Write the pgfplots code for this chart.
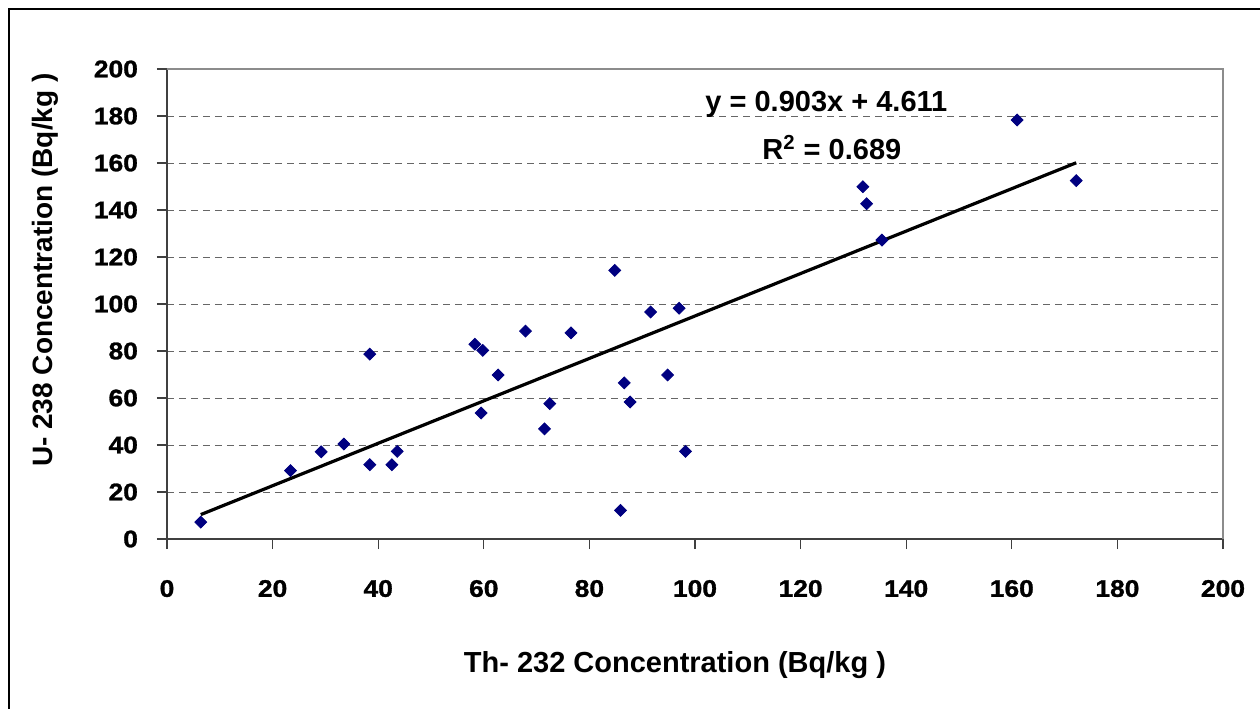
\documentclass[border=0pt]{standalone}
\usepackage{fontspec}
\setmainfont{Liberation Sans}
\newfontfamily\tickfont{Liberation Sans}[FakeStretch=1.1, FakeBold=1.2]
\usepackage{pgfplots}
\pgfplotsset{compat=1.18}
\definecolor{navy}{RGB}{0,0,128}
\pgfplotstableread{
x y
6.4 7.2
23.4 29.1
29.2 37.1
33.5 40.4
38.4 78.7
38.4 31.6
42.6 31.6
43.6 37.3
58.3 82.9
59.8 80.3
59.5 53.6
62.7 69.8
67.9 88.5
71.5 46.9
72.5 57.6
76.5 87.7
84.8 114.3
85.9 12.2
86.6 66.4
87.7 58.3
91.6 96.6
94.8 69.8
97.0 98.2
98.2 37.3
131.8 149.9
132.5 142.7
135.4 127.2
161.0 178.3
172.2 152.5
}\datatable
\begin{document}
\begin{tikzpicture}
\useasboundingbox (-83.5pt,-84.5pt) rectangle (546.5pt,269.5pt);
\draw[black, line width=0.8pt] (-79pt,-90pt) -- (-79pt,265pt) -- (560pt,265pt);
\begin{axis}[
  at={(0,0)}, anchor=south west,
  scale only axis, width=528pt, height=235pt,
  xmin=0, xmax=200, ymin=0, ymax=200,
  xtick={0,20,...,200}, ytick={0,20,...,200},
  axis lines=left, axis line style={-, draw=black!75, line width=0.8pt},
  tick align=outside, major tick length=5pt,
  tick style={black!75, line width=0.6pt},
  ymajorgrids,
  grid style={dash pattern=on 3.5pt off 2.5pt, black!60, line width=0.5pt},
  ticklabel style={font=\tickfont\bfseries\fontsize{12}{14}\selectfont},
  /pgf/number format/assume math mode=true,
  xticklabel style={yshift=-12pt},
  yticklabel style={xshift=-6pt},
  xlabel={Th- 232 Concentration (Bq/kg )},
  ylabel={U- 238 Concentration (Bq/kg )},
  xlabel style={at={(axis description cs:0.481,-0.268)}, anchor=center, font=\bfseries\fontsize{14.5}{16}\selectfont},
  ylabel style={at={(axis description cs:-0.1155,0.572)}, anchor=center, font=\bfseries\fontsize{14}{16}\selectfont},
  clip=false,
]
\draw[black!45, line width=0.8pt] (rel axis cs:0,1) -- (rel axis cs:1,1) -- (rel axis cs:1,0);
\addplot[black, line width=1.6pt] coordinates {(6.4,10.39) (172.2,160.1)};
\addplot[only marks, mark=square*, mark size=2.1pt, mark options={rotate=45, fill=navy, draw=navy}] table[x=x,y=y] {\datatable};
\node[anchor=base west, inner sep=0pt, font=\bfseries\fontsize{14.5}{16}\selectfont] at (axis cs:101.9,181.8) {y = 0.903x + 4.611};
\node[anchor=base west, inner sep=0pt, font=\bfseries\fontsize{14.5}{16}\selectfont] at (axis cs:112.7,161.3) {R\textsuperscript{2} = 0.689};
\end{axis}
\end{tikzpicture}
\end{document}
